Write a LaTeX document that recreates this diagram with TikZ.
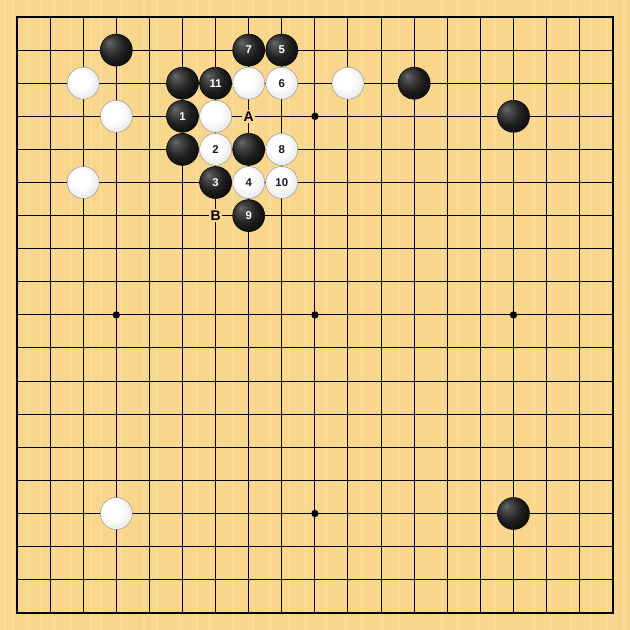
\documentclass[tikz,border=0pt]{standalone}
\usepackage{fontspec}
\newfontfamily\labfont{Liberation Sans}
\definecolor{board}{HTML}{F8D68C}
\definecolor{stripe}{HTML}{FADB97}
\definecolor{numdark}{HTML}{141428}
\pgfdeclareradialshading{whitestone}{\pgfpoint{-7bp}{7bp}}{color(0bp)=(white); color(14bp)=(white); color(28bp)=(black!8); color(40bp)=(black!22); color(50bp)=(black!38); color(58bp)=(black!50)}
\pgfdeclareradialshading{blackstone}{\pgfpoint{-12bp}{12bp}}{color(0bp)=(black!58); color(5bp)=(black!68); color(20bp)=(black!88); color(34bp)=(black!97); color(50bp)=(black)}
\tikzset{
  stone/.style={circle,inner sep=0pt,minimum size=24pt,font=\labfont\bfseries\fontsize{8.5}{8.5}\selectfont},
  bstone/.style={stone,shading=blackstone,draw=black,line width=0.4pt,text=white},
  wstone/.style={stone,shading=whitestone,draw=black!45,line width=0.3pt,text=numdark},
  boardlabel/.style={fill=board,inner sep=1.2pt,font=\labfont\bfseries\fontsize{10.5}{10.5}\selectfont,text=black},
  grid line/.style={line width=0.75pt,black},
  border line/.style={line width=1.6pt,black},
  hoshi/.style={circle,fill=black,inner sep=0pt,minimum size=5.5pt}
}
\begin{document}
\begin{tikzpicture}[x=24.825pt,y=-24.825pt]
\useasboundingbox (-0.5136,-0.5136) rectangle (18.52,18.52);
\fill[board] (-0.5136,-0.5136) rectangle (18.52,18.52);
\foreach \s in {-0.4,-0.15,0.3,0.7,1.1,1.6,2.2,2.5,3.1,3.8,4.2,4.9,5.4,5.8,6.5,7.1,7.6,8.2,8.7,9.3,9.9,10.4,11.0,11.5,12.1,12.8,13.3,13.9,14.4,15.0,15.6,16.1,16.7,17.3,17.8,18.3}
  \fill[stripe] (\s,-0.5136) rectangle (\s+0.06,18.52);
\foreach \i in {1,...,17} {
  \draw[grid line] (\i,0) -- (\i,18);
  \draw[grid line] (0,\i) -- (18,\i);
}
\draw[border line] (0,0) rectangle (18,18);
\foreach \c/\r [count=\k] in {3/3,9/3,15/3,3/9,9/9,15/9,3/15,9/15,15/15}
  \node[hoshi] (h\k) at (\c,\r) {};
% labels
\node[boardlabel] (la) at (7,3) {A};
\node[boardlabel] (lb) at (6,6) {B};
% black stones
\node[bstone] (b1) at (3,1) {};
\node[bstone] (b7) at (7,1) {7};
\node[bstone] (b5) at (8,1) {5};
\node[bstone] (b2) at (5,2) {};
\node[bstone] (b11) at (6,2) {11};
\node[bstone] (b3) at (12,2) {};
\node[bstone] (bone) at (5,3) {1};
\node[bstone] (b4) at (15,3) {};
\node[bstone] (b6) at (5,4) {};
\node[bstone] (b8) at (7,4) {};
\node[bstone] (bthree) at (6,5) {3};
\node[bstone] (b9) at (7,6) {9};
\node[bstone] (b10) at (15,15) {};
% white stones
\node[wstone] (w1) at (2,2) {};
\node[wstone] (w2) at (7,2) {};
\node[wstone] (w6) at (8,2) {6};
\node[wstone] (w3) at (10,2) {};
\node[wstone] (w4) at (3,3) {};
\node[wstone] (w5) at (6,3) {};
\node[wstone] (wtwo) at (6,4) {2};
\node[wstone] (w8) at (8,4) {8};
\node[wstone] (w7) at (2,5) {};
\node[wstone] (wfour) at (7,5) {4};
\node[wstone] (w10) at (8,5) {10};
\node[wstone] (w9) at (3,15) {};
\end{tikzpicture}
\end{document}
